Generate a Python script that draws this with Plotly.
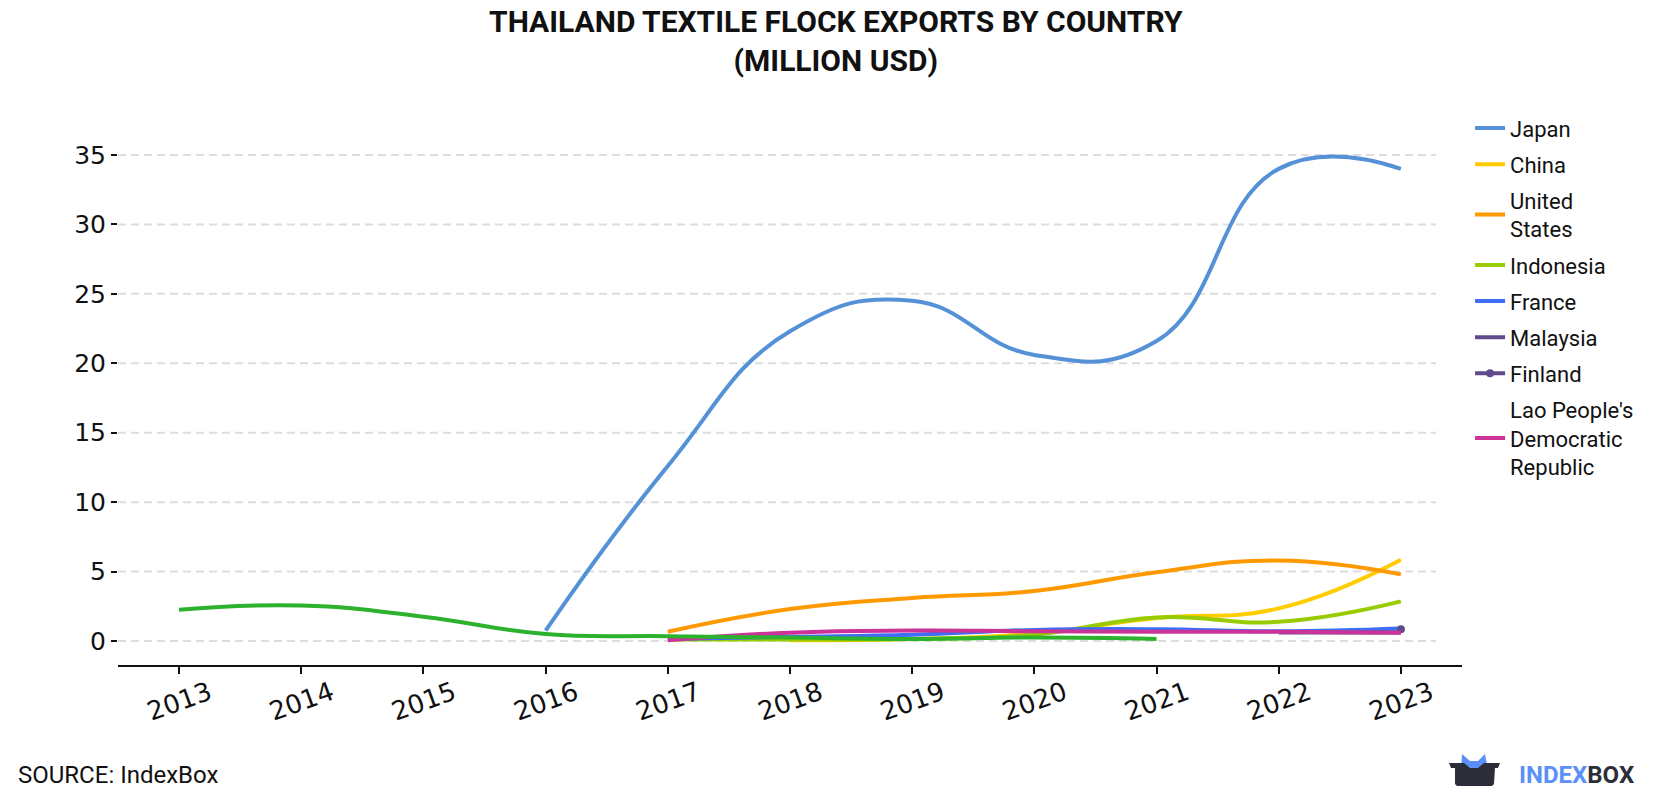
import plotly.graph_objects as go

years = [2013, 2014, 2015, 2016, 2017, 2018, 2019, 2020, 2021, 2022, 2023]

japan_x = [2016, 2017, 2018, 2019, 2020, 2021, 2022, 2023]
japan_y = [0.75, 12.6, 22.3, 24.5, 20.6, 21.6, 34.0, 34.0]

china_x = [2018, 2019, 2020, 2021, 2022, 2023]
china_y = [0.05, 0.15, 0.55, 1.65, 2.35, 5.85]

us_x = [2017, 2018, 2019, 2020, 2021, 2022, 2023]
us_y = [0.67, 2.3, 3.1, 3.6, 4.95, 5.8, 4.8]

indonesia_x = [2017, 2018, 2019, 2020, 2021, 2022, 2023]
indonesia_y = [0.1, 0.1, 0.15, 0.45, 1.7, 1.38, 2.85]

france_x = [2017, 2018, 2019, 2020, 2021, 2022, 2023]
france_y = [0.15, 0.3, 0.45, 0.8, 0.85, 0.7, 0.9]

malaysia_x = [2022, 2023]
malaysia_y = [0.62, 0.62]

finland_x = [2023]
finland_y = [0.85]

lao_x = [2017, 2018, 2019, 2020, 2021, 2022, 2023]
lao_y = [0.05, 0.6, 0.75, 0.7, 0.67, 0.67, 0.6]

other_x = [2013, 2014, 2015, 2016, 2017, 2018, 2019, 2020, 2021]
other_y = [2.25, 2.55, 1.75, 0.5, 0.35, 0.25, 0.15, 0.25, 0.15]

y_ticks = [0, 5, 10, 15, 20, 25, 30, 35]

series = [
    ("Japan", japan_x, japan_y, "#5591d6"),
    ("China", china_x, china_y, "#ffcc00"),
    ("United<br>States", us_x, us_y, "#ff9900"),
    ("Indonesia", indonesia_x, indonesia_y, "#99cc00"),
    ("France", france_x, france_y, "#3d6ef5"),
    ("Malaysia", malaysia_x, malaysia_y, "#5f4b8b"),
]

fig = go.Figure()
for name, xs, ys, color in series:
    fig.add_trace(go.Scatter(x=xs, y=ys, name=name, mode="lines", legendgroup=name,
                             line=dict(color=color, width=4, shape="spline", smoothing=1.3)))
fig.add_trace(go.Scatter(x=finland_x, y=finland_y, name="Finland", mode="lines+markers",
                         legendgroup="Finland",
                         line=dict(color="#5f4b8b", width=4), marker=dict(size=8, color="#5f4b8b")))
fig.add_trace(go.Scatter(x=lao_x, y=lao_y, name="Lao People's<br>Democratic<br>Republic", mode="lines",
                         legendgroup="Lao",
                         line=dict(color="#cc3399", width=4, shape="spline", smoothing=1.3)))
fig.add_trace(go.Scatter(x=other_x, y=other_y, name="Other", mode="lines",
                         line=dict(color="#2db22d", width=4, shape="spline", smoothing=1.3),
                         showlegend=False))

# plot area in pixels
L, R, T, B = 118, 1462, 110, 665
W, H = 1680, 800

def px(x):
    return (x - L) / (R - L)

def py(y):
    return (B - y) / (B - T)

shapes = []
for v in y_ticks:
    shapes.append(dict(type="line", xref="paper", yref="y", x0=0, x1=px(1436), y0=v, y1=v,
                       line=dict(color="#dddddd", width=2, dash="8px,5px"), layer="below"))

# logo icon
def path(points):
    return "M " + " L ".join(f"{px(a):.5f},{py(b):.5f}" for a, b in points) + " Z"

shapes.append(dict(type="path", xref="paper", yref="paper",
                   path=path([(1461, 770), (1462, 754), (1470, 761), (1478, 761), (1485, 754), (1488, 770)]),
                   fillcolor="#5b8ff9", line=dict(width=0)))
shapes.append(dict(type="path", xref="paper", yref="paper",
                   path=path([(1449, 763), (1464, 763), (1470, 768), (1478, 768), (1484, 763), (1500, 763),
                              (1498, 768), (1495, 768), (1494, 784), (1492, 786), (1457, 786), (1455, 784),
                              (1455, 768), (1451, 768)]),
                   fillcolor="#2b2d38", line=dict(width=0)))

fig.update_layout(
    width=W, height=H,
    margin=dict(l=L, r=W - R, t=T, b=H - B),
    paper_bgcolor="white", plot_bgcolor="white",
    title=dict(text="<b>THAILAND TEXTILE FLOCK EXPORTS BY COUNTRY<br>(MILLION USD)</b>",
               x=0.4975, xref="container", y=0.96, yanchor="top",
               font=dict(family="Roboto", size=30, color="#111111")),
    font=dict(family="Roboto", color="#111111"),
    xaxis=dict(range=[2012.5, 2023.5], tickvals=years, ticktext=[str(y) for y in years],
               tickangle=-20, showgrid=False, zeroline=False,
               showline=True, linecolor="#111111", linewidth=2,
               ticks="outside", ticklen=7, tickwidth=2, tickcolor="#111111",
               ticklabelshift=30, ticklabelstandoff=-6,
               tickfont=dict(family="DejaVu Sans", size=26, color="#111111")),
    yaxis=dict(range=[(641 - B) / 13.886, (641 - T) / 13.886], tickvals=y_ticks,
               showgrid=False, zeroline=False, showline=False,
               ticks="outside", ticklen=6, tickwidth=2, tickcolor="#111111",
               tickfont=dict(family="DejaVu Sans", size=25, color="#111111")),
    legend=dict(x=1.006, xanchor="left", y=1.005, yanchor="top",
                font=dict(family="Roboto", size=22, color="#111111"),
                bgcolor="rgba(0,0,0,0)", tracegroupgap=4.5),
    shapes=shapes,
    annotations=[
        dict(text="SOURCE: IndexBox", xref="paper", yref="paper", x=px(16), y=py(775),
             xanchor="left", yanchor="middle", showarrow=False,
             font=dict(family="Roboto", size=24, color="#111111")),
        dict(text="<b><span style='color:#5b8ff9'>INDEX</span><span style='color:#2b2d38'>BOX</span></b>",
             xref="paper", yref="paper", x=px(1517), y=py(775), xanchor="left", yanchor="middle",
             showarrow=False, font=dict(family="Roboto", size=24)),
    ],
)

fig.write_html("out.html")
